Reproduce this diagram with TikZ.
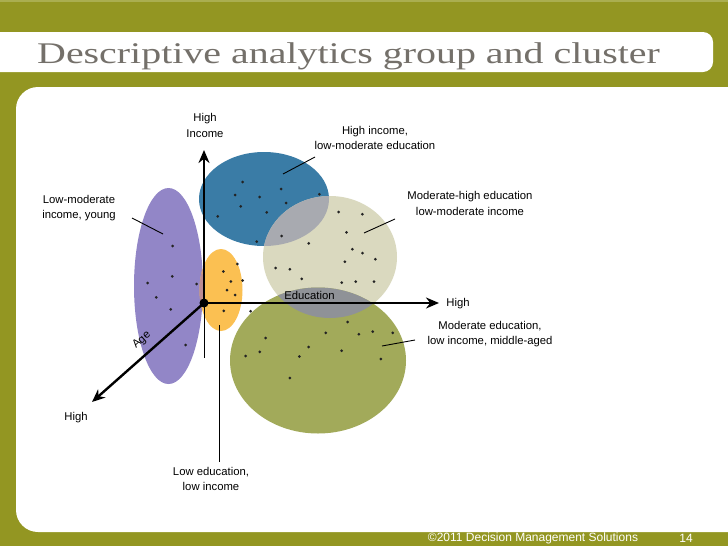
\documentclass[tikz,border=0pt]{standalone}
\usepackage{fontspec}
\setmainfont{Liberation Sans}
\newfontfamily\titlefont{Liberation Serif}
\usetikzlibrary{arrows.meta}
\definecolor{olive}{RGB}{147,150,34}
\definecolor{olivetop}{RGB}{170,174,80}
\definecolor{titlegray}{RGB}{116,112,106}
\definecolor{cpurple}{RGB}{146,134,199}
\definecolor{cblue}{RGB}{58,124,166}
\definecolor{cbeige}{RGB}{218,217,191}
\definecolor{cyellow}{RGB}{251,192,82}
\definecolor{cgreen}{RGB}{162,170,90}
\definecolor{gbb}{RGB}{168,170,176}
\definecolor{gbg}{RGB}{143,146,151}
\definecolor{cpy}{RGB}{188,140,148}
\definecolor{dotc}{RGB}{35,35,35}
\begin{document}
\begin{tikzpicture}[x=1pt,y=-1pt,
  lbl/.style={font=\fontsize{11.3}{15.6}\selectfont, align=center, inner sep=0pt, text=black},
  axis/.style={line width=2.4pt, -{Stealth[length=13pt,width=11pt]}},
  callout/.style={line width=0.9pt},
  dot/.style={fill=dotc},
  foot/.style={font=\fontsize{12}{14}\selectfont, text=white, inner sep=0pt}]
\useasboundingbox (0,0) rectangle (728,546);
% background
\fill[olive] (0,0) rectangle (728,546);
\fill[olivetop] (0,0) rectangle (728,2);
% title bar
\fill[white, rounded corners=10pt] (-20,32) rectangle (713,72);
\node[anchor=base west, inner sep=0pt, text=titlegray] (title) at (37,63)
  {\scalebox{1.33}[1]{\titlefont\fontsize{30}{34}\selectfont Descriptive analytics group and cluster}};
% main panel
\fill[white, rounded corners=22pt] (16,87) rectangle (760,532);
% ellipses
\def\Epurple{(168.5,286) ellipse [x radius=34.5pt, y radius=98pt]}
\def\Eyellow{(221,290) ellipse [x radius=21.5pt, y radius=41pt]}
\def\Eblue{(264,199) ellipse [x radius=65pt, y radius=47pt]}
\def\Ebeige{(330,257) ellipse [x radius=67pt, y radius=61pt]}
\def\Egreen{(318,360.5) ellipse [x radius=88pt, y radius=73pt]}
\fill[cpurple] \Epurple;
\fill[cyellow] \Eyellow;
\begin{scope}\clip \Epurple; \fill[cpy] \Eyellow; \end{scope}
\fill[cblue] \Eblue;
\fill[cbeige] \Ebeige;
\begin{scope}\clip \Eblue; \fill[gbb] \Ebeige; \end{scope}
\fill[cgreen] \Egreen;
\begin{scope}\clip \Ebeige; \fill[gbg] \Egreen; \end{scope}
% dots
\foreach \p in {(242.7,182),(281,189),(235,195),(259.7,197),(286,203),(319.3,194.3),(240.7,206.3),(266.7,212.3),(217.7,216.3),(256.7,241.7),(281.7,236),
  (338.7,212),(362.3,214.2),(346.5,232.3),(308.7,243.3),(352.3,249.2),(362.5,253.2),(375.3,259.2),(344.8,261.7),(275.5,268),(289.8,269.3),(301.7,278.8),(341.7,282.7),(355.7,281.7),(374,281.7),
  (172.7,246),(172.3,276.3),(147.7,283),(196.7,284),(156.3,297.3),(170.7,309.3),(185.7,345),
  (237.3,264),(223.3,271.5),(230.8,281.5),(242.7,280.5),(227,290),(235.2,295),(223.8,310.8),(250.7,311.2),
  (347.7,322),(325.8,332.8),(358.8,334.2),(372.7,331.7),(392.7,332.8),(265.7,338),(308.7,347),(259.8,351.8),(245.7,356),(299.3,356.5),(341.7,350.7),(380.8,359),(289.8,378)}
  \fill[dot] \p circle (1.5pt);
% coordinates
\coordinate (O) at (204,303);
\coordinate (ytop) at (204,150);
\coordinate (xtip) at (439,303);
\coordinate (ztip) at (92,402);
\coordinate (ybot) at (204,358);
% labels
\node[lbl] (lHI) at (205,125.5) {High\\Income};
\node[lbl] (lblue) at (375,138) {High income,\\low-moderate education};
\node[lbl] (lbeige) at (470,203.5) {Moderate-high education\\low-moderate income};
\node[lbl] (lpurple) at (79,208) {Low-moderate\\income, young};
\node[lbl] (lgreen) at (490,334) {Moderate education,\\low income, middle-aged};
\node[lbl] (lyellow) at (211,479) {Low education,\\low income};
\node[lbl] (lEdu) at (309.5,295.5) {Education};
\node[lbl] (lXH) at (458,304) {High};
\node[lbl] (lZH) at (76,418) {High};
\node[lbl, rotate=41.5] (lAge) at (141.8,340.3) {Age};
% callouts
\coordinate (cb1) at (283,174); \coordinate (cb2) at (315,157);
\coordinate (ce1) at (364,233); \coordinate (ce2) at (395,219);
\coordinate (cp1) at (163,234); \coordinate (cp2) at (132,218);
\coordinate (cg1) at (382,346); \coordinate (cg2) at (415,340);
\coordinate (cy1) at (219,325); \coordinate (cy2) at (219,462);
\draw[callout] (cb1) -- (cb2);
\draw[callout] (ce1) -- (ce2);
\draw[callout] (cp1) -- (cp2);
\draw[callout] (cg1) -- (cg2);
\draw[callout] (cy1) -- (cy2);
\draw[line width=1pt] (O) -- (ybot);
% axes
\draw[axis] (O) -- (ytop);
\draw[axis] (O) -- (xtip);
\draw[axis] (O) -- (ztip);
\fill (O) circle (4.5pt);
% footer
\node[foot] (copy) at (533,538) {©2011 Decision Management Solutions};
\node[foot] (page) at (686,538) {14};
\end{tikzpicture}
\end{document}
